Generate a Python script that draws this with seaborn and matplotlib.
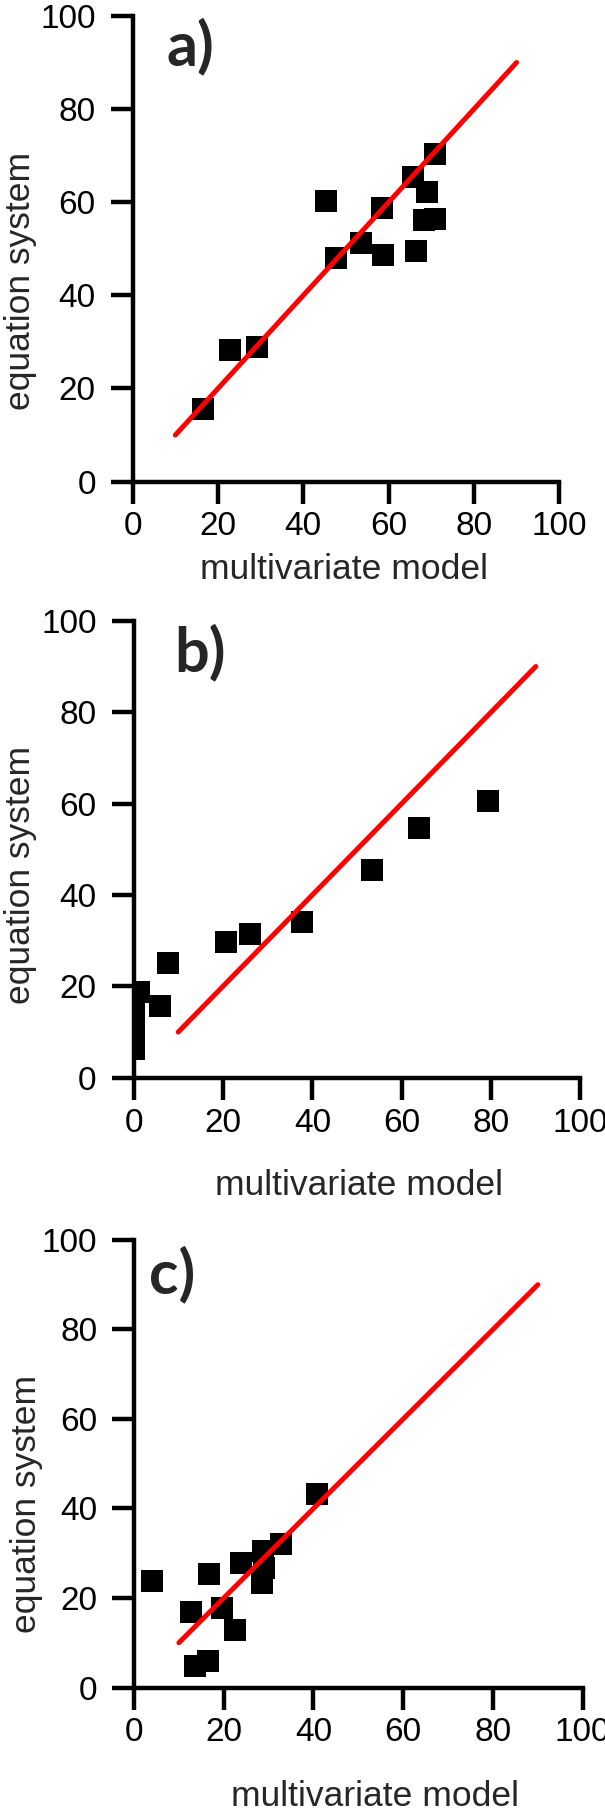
import seaborn as sns
import matplotlib.pyplot as plt
import pandas as pd

# values
a_x = [16.5, 22.9, 29.1, 45.4, 47.6, 53.6, 58.7, 58.5, 65.7, 66.3, 68.9, 68.3, 70.8, 70.8]
a_y = [15.5, 28.2, 28.9, 60.2, 48.0, 51.2, 48.6, 58.8, 65.4, 49.5, 62.1, 56.2, 56.3, 70.3]

b_x = [79.4, 63.8, 53.4, 37.7, 26.1, 20.7, 7.8, 5.9, 1.3, 0.0, 0.0, 0.0, 0.0]
b_y = [60.5, 54.7, 45.4, 34.0, 31.4, 29.8, 25.2, 15.7, 18.8, 15.5, 12.5, 9.5, 6.2]

c_x = [3.9, 12.8, 16.8, 19.6, 22.6, 13.6, 16.4, 23.9, 28.7, 32.8, 29.0, 28.6, 40.8]
c_y = [23.9, 16.9, 25.4, 17.8, 12.9, 4.9, 6.0, 27.8, 30.5, 32.0, 26.8, 23.4, 43.3]

# 1:1 reference line
line_x = [10, 90]
line_y = [10, 90]

ticks = [0, 20, 40, 60, 80, 100]
panel_labels = ['a)', 'b)', 'c)']
x_label = 'multivariate model'
y_label = 'equation system'

sns.set_style('ticks')
plt.rcParams['font.family'] = ['Liberation Sans', 'DejaVu Sans']

fig = plt.figure(figsize=(6.05, 18.12), dpi=100)

# axes rectangles and label placements per panel
boxes = [[0.2193, 0.7342, 0.7051, 0.2570],
         [0.2207, 0.4052, 0.7388, 0.2522],
         [0.2215, 0.0687, 0.7417, 0.2470]]
ylabel_pos = [(-0.225, 0.431), (-0.216, 0.443), (-0.202, 0.41)]
xlabel_pos = [(0.495, -0.153), (0.504, -0.20), (0.536, -0.207)]
tag_pos = [(8.0, 89.5), (9.2, 89.0), (3.4, 88.0)]

data = [(a_x, a_y), (b_x, b_y), (c_x, c_y)]

for i, (xs, ys) in enumerate(data):
    ax = fig.add_axes(boxes[i])
    df = pd.DataFrame({'x': xs, 'y': ys})
    sns.scatterplot(data=df, x='x', y='y', marker='s', s=245, color='black',
                    linewidth=0, ax=ax, zorder=2)
    sns.lineplot(x=line_x, y=line_y, color='#ff0000', linewidth=3.6, ax=ax,
                 zorder=3, solid_capstyle='round')
    ax.set_xlim(0, 100)
    ax.set_ylim(0, 100)
    ax.set_xticks(ticks)
    ax.set_yticks(ticks)
    for side in ['top', 'right']:
        ax.spines[side].set_visible(False)
    for side in ['left', 'bottom']:
        ax.spines[side].set_linewidth(3.2)
        ax.spines[side].set_color('black')
    ax.tick_params(axis='both', length=15.5, width=3.2, labelsize=24,
                   color='black', labelcolor='black')
    ax.tick_params(axis='x', pad=6)
    ax.tick_params(axis='y', pad=11)
    ax.set_xlabel(x_label, fontsize=25.5)
    ax.set_ylabel(y_label, fontsize=25.5)
    ax.xaxis.set_label_coords(*xlabel_pos[i])
    ax.yaxis.set_label_coords(*ylabel_pos[i])
    ax.text(tag_pos[i][0], tag_pos[i][1], panel_labels[i], fontsize=44,
            fontweight='bold', family=['Lato', 'DejaVu Sans'],
            ha='left', va='baseline')

fig.savefig('out.png', dpi=100)
